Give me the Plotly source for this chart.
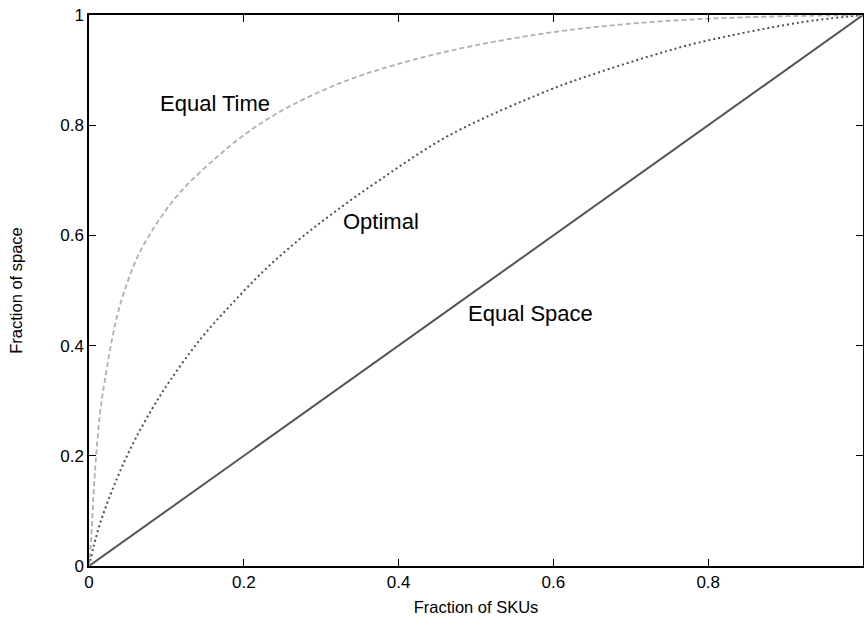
import plotly.graph_objects as go

# Equal Time curve
equal_time_x = [0, 0.0026, 0.0056, 0.009, 0.0142, 0.0206, 0.034, 0.046, 0.064, 0.089, 0.117,
                0.165, 0.208, 0.251, 0.294, 0.333, 0.375, 0.466, 0.595, 0.724, 0.85, 1.0]
equal_time_y = [0, 0.045, 0.124, 0.196, 0.276, 0.338, 0.44, 0.5, 0.565, 0.625, 0.677,
                0.742, 0.79, 0.828, 0.858, 0.881, 0.901, 0.935, 0.968, 0.987, 0.996, 1.0]

# Optimal curve
optimal_x = [0, 0.0056, 0.014, 0.027, 0.042, 0.059, 0.081, 0.1045, 0.143, 0.186, 0.229,
             0.272, 0.315, 0.375, 0.466, 0.595, 0.659, 0.724, 0.788, 0.917, 1.0]
optimal_y = [0, 0.033, 0.076, 0.127, 0.178, 0.228, 0.284, 0.336, 0.410, 0.478, 0.540,
             0.593, 0.640, 0.700, 0.782, 0.864, 0.896, 0.925, 0.950, 0.986, 1.0]

# Equal Space line
equal_space_x = [0, 1]
equal_space_y = [0, 1]

tick_vals = [0, 0.2, 0.4, 0.6, 0.8, 1]
tick_text = ["0", "0.2", "0.4", "0.6", "0.8", "1"]

labels = ["Equal Time", "Optimal", "Equal Space"]
label_x = [0.163, 0.377, 0.570]
label_y = [0.84, 0.625, 0.458]

FONT = "Liberation Sans, Arial, Helvetica"

fig = go.Figure()
fig.add_trace(go.Scatter(x=equal_space_x, y=equal_space_y, mode="lines",
                         line=dict(color="#555555", width=2), name="Equal Space"))
fig.add_trace(go.Scatter(x=optimal_x, y=optimal_y, mode="lines", line_shape="spline",
                         line=dict(color="#505050", width=2, dash="2px,3px"), name="Optimal"))
fig.add_trace(go.Scatter(x=equal_time_x, y=equal_time_y, mode="lines", line_shape="spline",
                         line=dict(color="#b0b0b0", width=1.8, dash="5px,3px"), name="Equal Time"))

for t, xx, yy in zip(labels, label_x, label_y):
    fig.add_annotation(x=xx, y=yy, text=t, showarrow=False,
                       font=dict(family=FONT, size=22, color="black"))

axis_common = dict(range=[0, 1], tickvals=tick_vals, ticktext=tick_text,
                   ticks="inside", ticklen=7, tickwidth=1.2, tickcolor="black",
                   showline=True, linecolor="black", linewidth=1.5, mirror="ticks",
                   showgrid=False, zeroline=False, automargin=False,
                   tickfont=dict(family=FONT, size=17, color="black"))

fig.update_xaxes(**axis_common,
                 title=dict(text="Fraction of SKUs", standoff=10,
                            font=dict(family=FONT, size=16.5, color="black")))
fig.update_yaxes(**axis_common,
                 title=dict(text="Fraction of space", standoff=33,
                            font=dict(family=FONT, size=16.5, color="black")))

fig.update_layout(width=864, height=620, showlegend=False,
                  margin=dict(l=89, r=1, t=15, b=54),
                  plot_bgcolor="white", paper_bgcolor="white")

fig.write_html("out.html", config={"displayModeBar": False},
               post_script="document.body.style.margin='0px';document.body.style.padding='0px';")
